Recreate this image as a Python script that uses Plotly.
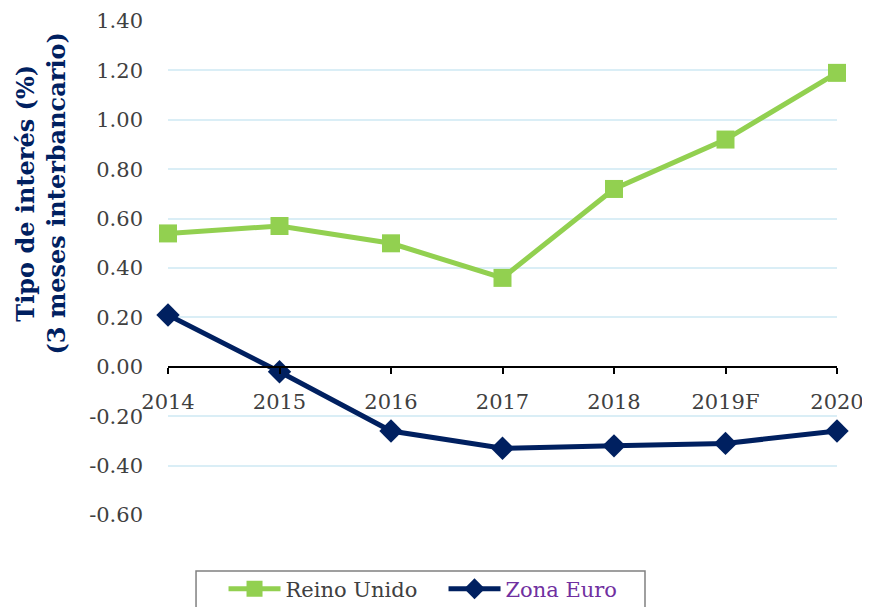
import plotly.graph_objects as go

years = ["2014", "2015", "2016", "2017", "2018", "2019F", "2020"]
reino_unido = [0.54, 0.57, 0.50, 0.36, 0.72, 0.92, 1.19]
zona_euro = [0.21, -0.02, -0.26, -0.33, -0.32, -0.31, -0.26]
y_ticks = [-0.6, -0.4, -0.2, 0.0, 0.2, 0.4, 0.6, 0.8, 1.0, 1.2, 1.4]
y_ticklabels = ["%.2f" % v for v in y_ticks]

FONT = "DejaVu Serif"
fig = go.Figure()
fig.add_trace(go.Scatter(
    x=years, y=reino_unido, mode="lines+markers", name="Reino Unido",
    line=dict(color="#92D050", width=5),
    marker=dict(symbol="square", size=18, color="#92D050"),
    cliponaxis=False,
))
fig.add_trace(go.Scatter(
    x=years, y=zona_euro, mode="lines+markers",
    name="<span style='color:#7030A0'>Zona Euro</span>",
    line=dict(color="#002060", width=5),
    marker=dict(symbol="diamond", size=18, color="#002060"),
    cliponaxis=False,
))

fig.update_layout(
    width=862, height=599,
    margin=dict(l=160, r=33, t=12, b=91, autoexpand=False),
    paper_bgcolor="white", plot_bgcolor="white",
    font=dict(family=FONT, size=21, color="#404040"),
    showlegend=True,
    legend=dict(
        orientation="h", x=0.083, y=-0.106, xanchor="left", yanchor="top",
        borderwidth=0, bgcolor="rgba(0,0,0,0)",
        font=dict(family=FONT, size=21, color="#404040"),
        itemwidth=52, entrywidth=153, entrywidthmode="pixels",
    ),
    xaxis=dict(
        type="category", range=[0, 6], anchor="free", position=0.3,
        showline=True, linecolor="#000000", linewidth=1.5,
        ticks="outside", ticklen=6, tickcolor="#000000", tickwidth=1.5,
        ticklabelstandoff=10, showgrid=False, zeroline=False, automargin=False,
        tickfont=dict(family=FONT, size=21, color="#404040"),
    ),
    yaxis=dict(
        range=[-0.604, 1.404], tickvals=y_ticks, ticktext=y_ticklabels,
        showgrid=True, gridcolor="#DAEEF6", gridwidth=2,
        zeroline=False, showline=False, ticks="", automargin=False,
        ticklabelstandoff=24,
        tickfont=dict(family=FONT, size=21, color="#404040"),
    ),
    shapes=[dict(
        type="rect", xref="paper", yref="paper",
        x0=0.0419, x1=0.713, y0=-0.111, y1=-0.25,
        line=dict(color="#808080", width=1.5), fillcolor="rgba(0,0,0,0)",
        layer="below",
    )],
    annotations=[dict(
        text="<b>Tipo de interés (%)<br>(3 meses interbancario)</b>",
        xref="paper", yref="paper", x=-0.19, y=0.65,
        xanchor="center", yanchor="middle", textangle=-90, showarrow=False,
        font=dict(family=FONT, size=24, color="#002060"),
    )],
)

fig.write_html("out.html")
